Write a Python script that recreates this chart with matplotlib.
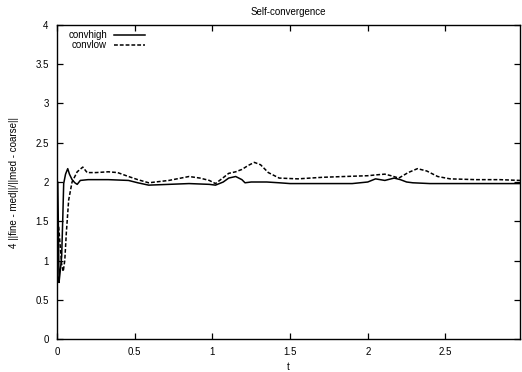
import matplotlib
matplotlib.use("Agg")
import matplotlib.pyplot as plt
from matplotlib.lines import Line2D

plt.rcParams['font.family'] = ['Liberation Sans', 'DejaVu Sans']

# convhigh series
t_high = [0.0, 0.005, 0.009, 0.013, 0.02, 0.03, 0.038, 0.043, 0.055, 0.069,
          0.08, 0.097, 0.115, 0.13, 0.15, 0.2, 0.33, 0.46, 0.52, 0.59,
          0.72, 0.85, 0.98, 1.02, 1.07, 1.105, 1.15, 1.19, 1.21, 1.25,
          1.35, 1.43, 1.5, 1.7, 1.9, 2.0, 2.05, 2.11, 2.17, 2.21, 2.25,
          2.29, 2.4, 2.6, 2.8, 2.98]
y_high = [2.0, 2.0, 1.4, 0.72, 0.85, 1.05, 1.6, 1.98, 2.1, 2.17,
          2.1, 2.03, 1.99, 1.97, 2.02, 2.03, 2.03, 2.02, 1.99, 1.96,
          1.97, 1.98, 1.97, 1.96, 2.0, 2.05, 2.07, 2.03, 1.99, 2.0,
          2.0, 1.99, 1.98, 1.98, 1.98, 2.0, 2.04, 2.02, 2.05, 2.03, 2.0,
          1.99, 1.98, 1.98, 1.98, 1.98]

# convlow series
t_low = [0.0, 0.01, 0.02, 0.03, 0.04, 0.05, 0.06, 0.075, 0.097, 0.13,
         0.166, 0.194, 0.25, 0.33, 0.39, 0.46, 0.52, 0.59, 0.72, 0.85,
         0.92, 0.98, 1.02, 1.06, 1.105, 1.15, 1.19, 1.23, 1.27, 1.31,
         1.36, 1.43, 1.55, 1.71, 1.85, 2.0, 2.05, 2.11, 2.15, 2.2, 2.26,
         2.32, 2.38, 2.45, 2.53, 2.7, 2.85, 2.98]
y_low = [1.5, 1.45, 1.2, 0.95, 0.86, 1.0, 1.35, 1.77, 2.0, 2.13,
         2.19, 2.12, 2.12, 2.13, 2.12, 2.07, 2.03, 1.99, 2.02, 2.07,
         2.05, 2.02, 1.98, 2.04, 2.11, 2.13, 2.16, 2.21, 2.25, 2.22,
         2.12, 2.05, 2.04, 2.06, 2.07, 2.08, 2.09, 2.1, 2.08, 2.05, 2.12,
         2.17, 2.14, 2.07, 2.04, 2.03, 2.03, 2.02]

x_ticks = [0, 0.5, 1, 1.5, 2, 2.5]
x_tick_labels = ['0', '0.5', '1', '1.5', '2', '2.5']
y_ticks = [0, 0.5, 1, 1.5, 2, 2.5, 3, 3.5, 4]
y_tick_labels = ['0', '0.5', '1', '1.5', '2', '2.5', '3', '3.5', '4']

fig = plt.figure(figsize=(5.22, 3.72), dpi=100)
ax = fig.add_axes([0.1092, 0.0887, 0.887, 0.8441])

ax.plot(t_high, y_high, color='black', lw=1.1, solid_joinstyle='round')
ax.plot(t_low, y_low, color='black', lw=1.1, linestyle=(0, (2.5, 1.3)))

ax.set_xlim(0, 2.98)
ax.set_ylim(0, 4)
ax.set_xticks(x_ticks)
ax.set_xticklabels(x_tick_labels)
ax.set_yticks(y_ticks)
ax.set_yticklabels(y_tick_labels)
ax.tick_params(direction='in', length=4, width=0.9, labelsize=7,
               top=True, right=True, pad=6, colors='black')
for s in ax.spines.values():
    s.set_linewidth(1.0)
    s.set_color('black')

ax.set_title('Self-convergence', fontsize=7, pad=7)
ax.set_xlabel('t', fontsize=7, labelpad=3)
ax.set_ylabel('4 ||fine - med||/||med - coarse||', fontsize=7, labelpad=12)

# key in the top-left corner: right-aligned names, sample line to the right
key = [('convhigh', '-'), ('convlow', (0, (2.5, 1.3)))]
for i, (name, ls) in enumerate(key):
    yk = 0.969 - i * 0.032
    ax.text(0.108, yk, name, transform=ax.transAxes, ha='right', va='center',
            fontsize=7)
    ax.add_line(Line2D([0.123, 0.19], [yk, yk], transform=ax.transAxes,
                       color='black', lw=1.1, linestyle=ls))

fig.savefig('out.png', dpi=100)
